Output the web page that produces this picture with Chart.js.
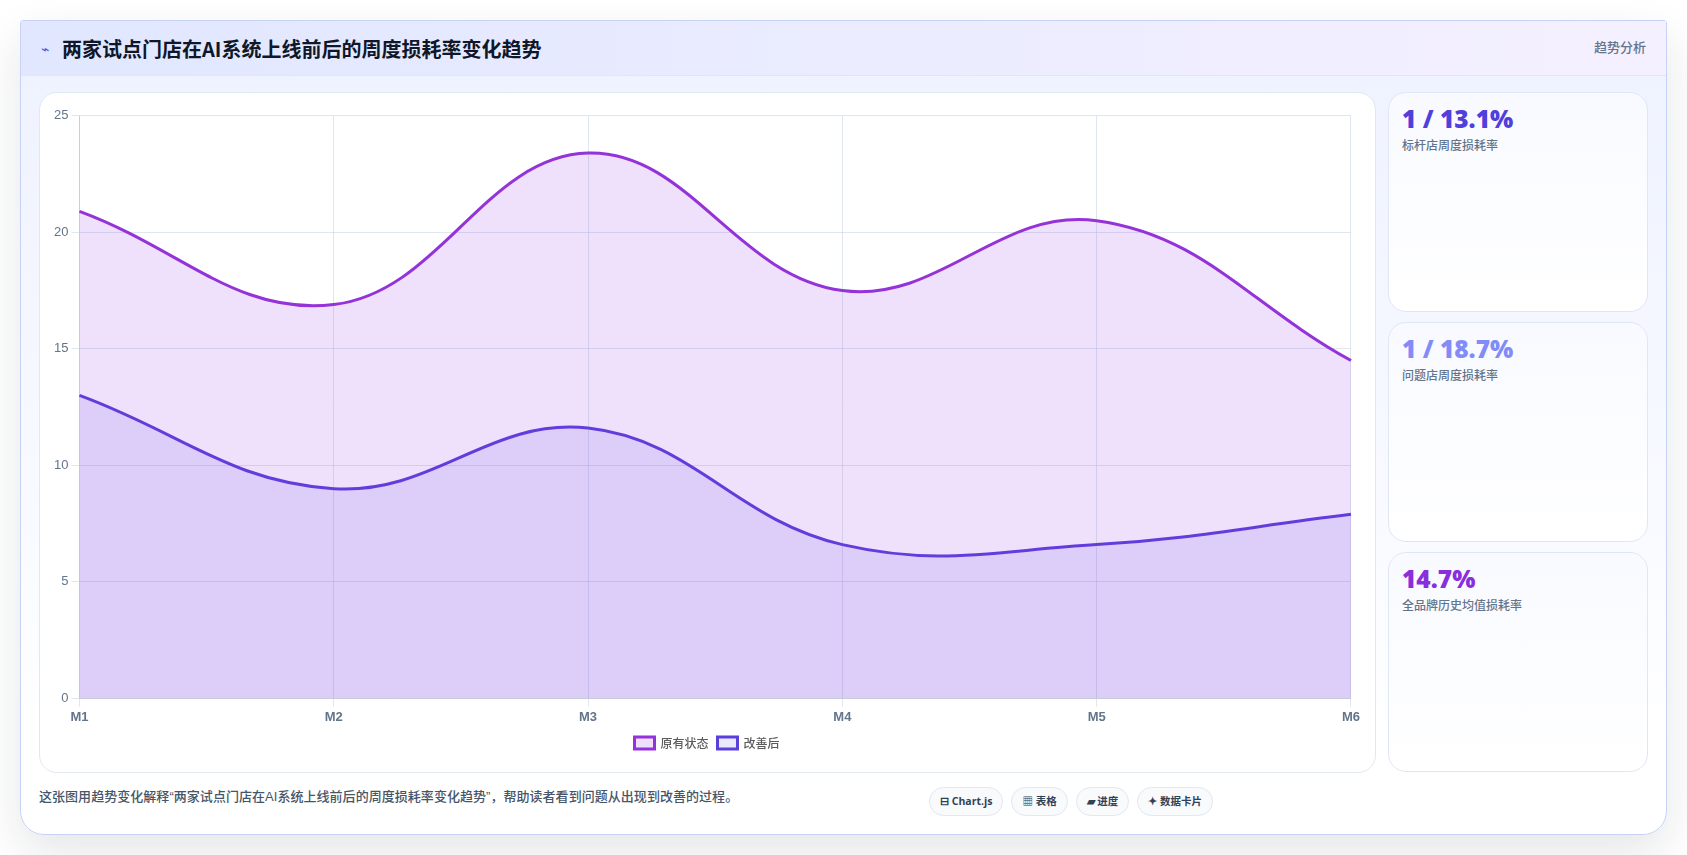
<!DOCTYPE html>
<html lang="zh-CN">
<head>
<meta charset="UTF-8">
<title>周度损耗率变化趋势</title>
<script src="https://cdn.jsdelivr.net/npm/chart.js@4"></script>
<style>
	* { box-sizing: border-box; margin: 0; padding: 0; }
	html, body { width: 1687px; height: 855px; overflow: hidden; background: #fff; }
	body { font-family: "Open Sans", "Noto Sans CJK SC", sans-serif; position: relative; }
	.card {
		position: absolute; left: 20px; top: 20px; width: 1647px; height: 815px;
		background: linear-gradient(180deg, #eef2ff 0%, #f8faff 60%, #ffffff 88%);
		border: 1px solid #c7d2f4; border-radius: 3px 3px 24px 24px;
		box-shadow: 0 18px 46px rgba(15, 23, 42, 0.11);
	}
	.head {
		position: absolute; left: 0; top: 0; right: 0; height: 55px;
		background: linear-gradient(90deg, #e0e7ff, #f5f0ff);
		border-bottom: 1px solid #dfe6f7;
	}
	.head h1 {
		position: absolute; left: 41px; top: 13px;
		font-size: 20px; line-height: 30px; font-weight: 700; color: #0f172a;
		font-family: "Noto Sans CJK SC", sans-serif;
	}
	.head .icon { position: absolute; left: 20px; top: 18px; font-size: 14px; line-height: 20px; color: #4f5fe0; }
	.head .tag {
		position: absolute; right: 20px; top: 16px;
		font-size: 13px; line-height: 20px; font-weight: 500; color: #64748b;
		font-family: "Noto Sans CJK SC", sans-serif;
	}
	.panel {
		position: absolute; left: 18px; top: 71px; width: 1337px; height: 681px;
		background: #fff; border: 1px solid #e2e8f0; border-radius: 18px;
	}
	.chart-wrap { position: absolute; left: 11px; top: 12px; width: 1312px; height: 654px; }
	.stat {
		position: absolute; left: 1367px; width: 260px; height: 220px; padding: 9px 13px;
		background: linear-gradient(180deg, #f8faff, #ffffff);
		border: 1px solid #dfe7f7; border-radius: 18px;
	}
	.stat b { display: block; font-size: 24.5px; line-height: 34px; font-weight: 800; }
	.stat span {
		display: block; font-size: 12px; line-height: 18px; margin-top: 0; font-weight: 500; color: #64748b;
		font-family: "Noto Sans CJK SC", sans-serif;
	}
	.note {
		position: absolute; left: 18px; top: 766px; letter-spacing: 0.04px;
		font-size: 13px; line-height: 20px; font-weight: 500; color: #475569;
		font-family: "Liberation Sans", "Noto Sans CJK SC", sans-serif;
	}
	.chips { position: absolute; left: 908px; top: 766px; display: flex; gap: 8px; }
	.chips div {
		height: 29px; padding: 0 10px; border: 1px solid #e2e8f0; border-radius: 15px; background: #f8fafc;
		font-size: 10.5px; line-height: 27px; font-weight: 700; color: #334155; white-space: nowrap;
	}
</style>
</head>
<body>
<div class="card">
	<div class="head">
		<span class="icon">⌁</span>
		<h1 id="title"></h1>
		<span class="tag">趋势分析</span>
	</div>
	<div class="panel"><div class="chart-wrap"><canvas id="trend"></canvas></div></div>
	<div id="stats"></div>
	<div class="note" id="note"></div>
	<div class="chips" id="chips"></div>
</div>
<script>
var TITLE = "两家试点门店在AI系统上线前后的周度损耗率变化趋势";
var NOTE = "这张图用趋势变化解释“两家试点门店在AI系统上线前后的周度损耗率变化趋势”，帮助读者看到问题从出现到改善的过程。";

var months = ["M1", "M2", "M3", "M4", "M5", "M6"];
var before = [20.9, 16.9, 23.4, 17.5, 20.5, 14.5];
var after = [13.0, 9.0, 11.6, 6.6, 6.6, 7.9];
var yTicks = [0, 5, 10, 15, 20, 25];

var statValues = ["1 / 13.1%", "1 / 18.7%", "14.7%"];
var statLabels = ["标杆店周度损耗率", "问题店周度损耗率", "全品牌历史均值损耗率"];
var statColors = ["#4f3fdc", "#818cf8", "#8a2fdc"];
var statTops = [71, 301, 531];
var chipLabels = ["⊟ Chart.js", "▦ 表格", "▰ 进度", "✦ 数据卡片"];

document.getElementById("title").textContent = TITLE;
document.getElementById("note").textContent = NOTE;

var statBox = document.getElementById("stats");
statValues.forEach(function(v, i){
	var d = document.createElement("div");
	d.className = "stat";
	d.style.top = statTops[i] + "px";
	d.innerHTML = '<b style="color:' + statColors[i] + '">' + v + '</b><span>' + statLabels[i] + '</span>';
	statBox.appendChild(d);
});

var chipBox = document.getElementById("chips");
chipLabels.forEach(function(t){
	var d = document.createElement("div");
	d.textContent = t;
	chipBox.appendChild(d);
});

Chart.defaults.font.family = '"Liberation Sans", "Noto Sans CJK SC", sans-serif';
Chart.defaults.animation = false;

new Chart(document.getElementById("trend"), {
	type: "line",
	data: {
		labels: months,
		datasets: [
			{
				label: "原有状态",
				data: before,
				borderColor: "#9333d8",
				backgroundColor: "rgba(147,51,234,0.15)",
				borderWidth: 3,
				tension: 0.4,
				fill: "origin",
				pointRadius: 0
			},
			{
				label: "改善后",
				data: after,
				borderColor: "#5b3fd9",
				backgroundColor: "rgba(79,70,229,0.12)",
				borderWidth: 3,
				tension: 0.4,
				fill: "origin",
				pointRadius: 0
			}
		]
	},
	options: {
		responsive: true,
		maintainAspectRatio: false,
		plugins: {
			legend: {
				position: "bottom",
				labels: {
					boxWidth: 20,
					boxHeight: 12,
					padding: 9,
					color: "#5b5b5b",
					font: { size: 12, weight: "500", family: '"Noto Sans CJK SC", sans-serif' }
				}
			},
			tooltip: { enabled: false }
		},
		scales: {
			x: {
				grid: { color: "rgba(203,213,225,0.6)" },
				ticks: { color: "#64748b", font: { size: 13, weight: "bold" }, maxRotation: 0 }
			},
			y: {
				min: 0,
				max: 25,
				grid: { color: "rgba(203,213,225,0.6)" },
				afterBuildTicks: function(axis){
					axis.ticks = yTicks.map(function(v){ return { value: v }; });
				},
				ticks: { color: "#64748b", font: { size: 13 } }
			}
		}
	}
});
</script>
</body>
</html>
